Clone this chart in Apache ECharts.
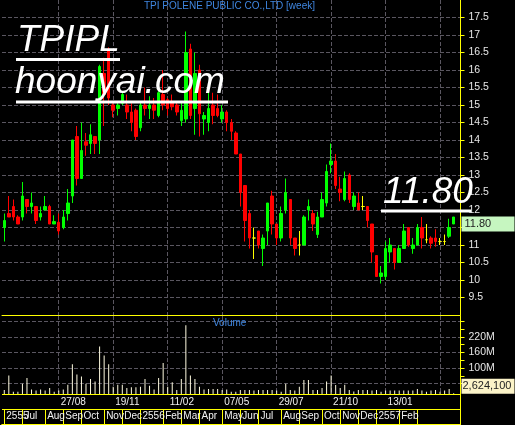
<!DOCTYPE html>
<html><head><meta charset="utf-8">
<script src="https://cdn.jsdelivr.net/npm/echarts@6/dist/echarts.min.js"></script>
<style>html,body{margin:0;padding:0;background:#000;}#c{width:515px;height:425px;}</style>
</head><body><div id="c"></div>
<script>
// ---- categories: weekly bars from the week of 04/06/2012 (plus one empty week at the end)
const weekDates = [];
(function () {
  const t0 = Date.UTC(2012, 5, 4);
  for (let i = 0; i < 101; i++) weekDates.push(new Date(t0 + i * 7 * 86400000).toISOString().slice(0, 10));
})();

// ---- OHLC values (THB)
const openVals = [11.5,11.9,12.1,11.8,11.8,12.3,12.1,12.1,11.8,12.0,
  12.1,11.6,11.65,11.5,11.9,12.4,14.1,12.9,13.95,13.9,
  14.1,14.0,15.9,16.6,15.0,14.9,15.05,15.0,14.8,14.85,
  14.35,15.0,14.9,15.0,14.7,15.3,15.15,15.1,15.0,14.55,
  14.6,16.6,14.9,16.0,14.6,14.5,15.0,14.9,14.6,14.8,
  14.5,14.2,13.6,12.7,11.9,11.2,11.4,10.9,11.4,12.4,
  11.6,11.2,12.0,12.3,11.2,11.0,11.0,12.0,11.9,11.3,
  11.8,12.2,13.3,13.4,12.6,12.3,13.0,12.1,12.2,12.1,
  12.1,11.6,10.7,10.1,10.1,10.8,10.9,10.5,10.9,11.5,
  10.9,11.0,11.5,11.15,11.2,11.2,11.1,11.1,11.25,11.6];
const closeVals = [11.7,11.8,11.8,11.6,12.4,12.1,12.2,11.7,11.9,12.1,
  11.6,11.67,11.4,11.8,12.2,14.0,12.9,13.7,13.85,14.15,
  13.9,16.1,15.3,15.2,14.85,15.0,15.3,14.8,14.5,14.1,
  15.0,14.9,15.0,14.85,15.35,15.0,14.9,14.95,14.8,14.85,
  16.5,14.7,15.9,14.75,14.7,14.9,14.7,14.7,14.8,14.5,
  14.25,13.6,12.5,11.7,11.2,11.2,11.0,11.2,12.2,11.6,
  11.2,11.9,12.5,11.2,10.9,11.0,11.8,12.1,11.6,11.8,
  12.3,13.1,13.4,12.7,12.5,12.9,12.3,12.4,12.0,12.1,
  11.7,10.8,10.1,10.2,10.9,11.0,10.5,10.9,11.4,11.0,
  11.0,11.5,11.2,11.15,11.05,11.1,11.1,11.1,11.5,11.8];
const lowVals = [11.1,11.8,11.7,11.6,11.7,11.9,11.9,11.6,11.7,12.0,
  11.6,11.6,11.3,11.45,11.7,12.2,12.7,12.9,13.55,13.6,
  13.6,13.6,14.4,15.0,14.65,14.7,15.0,14.6,14.25,14.0,
  14.25,14.7,14.6,14.6,14.65,14.85,14.7,14.85,14.7,14.4,
  14.5,14.6,14.15,14.1,14.15,14.25,14.45,14.65,14.5,14.25,
  14.0,13.6,12.1,11.1,10.9,10.6,10.9,10.4,11.0,11.3,
  11.0,11.1,11.9,11.0,10.7,10.7,11.0,11.7,11.4,11.2,
  11.8,12.1,13.05,12.6,12.25,12.25,12.2,12.0,12.0,12.0,
  11.5,10.5,10.1,9.9,10.0,10.5,10.3,10.5,10.9,10.95,
  10.75,11.0,10.9,11.05,10.9,10.95,11.0,11.0,11.2,11.6];
const highVals = [11.9,12.4,12.3,11.85,12.8,12.3,12.5,12.1,12.1,12.4,
  12.15,11.85,11.9,12.0,12.6,14.0,14.4,14.5,14.2,14.45,
  14.1,16.15,16.35,16.65,15.05,15.1,15.4,15.3,15.05,14.9,
  15.1,15.5,15.25,15.2,15.5,16.0,15.2,15.3,15.1,15.1,
  17.1,16.75,16.5,16.15,14.8,15.4,15.35,15.3,15.0,14.85,
  14.6,14.25,13.6,12.7,12.0,11.5,11.4,11.3,12.2,12.55,
  11.6,12.1,12.9,12.3,11.2,11.4,11.85,12.3,12.0,11.95,
  12.5,13.3,13.9,13.6,12.95,13.1,13.05,12.5,12.5,12.4,
  12.1,11.6,10.7,10.4,11.1,11.2,10.9,11.0,11.6,11.5,
  11.2,11.6,11.8,11.6,11.25,11.45,11.2,11.3,11.75,11.8];

// ---- weekly volume (millions of shares)
const volumeM = [15.5,71,9,9,39,62,17,13,17,13,
  23,9,13,17,36,114,75,67,39,58,
  48,183,148,114,28,36,36,23,26,26,
  28,58,32,17,62,119,28,45,15,58,
  264,71,58,28,17,19,19,19,15,17,
  9,9,15,15,15,13,15,15,15,15,
  13,9,39,15,13,28,54,54,15,15,
  23,48,71,35,23,36,15,10,15,15,
  15,13,15,9,13,13,13,13,13,13,
  13,19,13,9,13,15,9,13,19,2.6241];

// ---- tick labels
const priceMin = 9, priceMax = 18, priceStep = 0.5;
const volMax = 300;
const volTickValues = [40,70,100,130,160,190,220,250,280];
const volLabelValues = [100,160,220];
const volGridValues = [40,100,160,220,280];
const dateTickIdx = [12,24,36,48,60,72,84,96];
const dateTickLabels = ['27/08','19/11','11/02','07/05','29/07','21/10','13/01',''];
const monthTickIdx = [0,4,9,13,17,22,26,30,35,39,43,48,52,56,61,65,70,74,78,82,87,91];
const monthTickLabels = ['2555','Jul','Aug','Sep','Oct','Nov','Dec','2556','Feb','Mar','Apr','May','Jun','Jul','Aug','Sep','Oct','Nov','Dec','2557','Feb',''];
const gridLineIdx = [12,24,36,48,60,72,84,96];

const YEL = '#ffff00';
const GRIDC = '#5a5660';
const FONT = 'Liberation Sans';

const candleData = openVals.map((o, i) => [o, closeVals[i], lowVals[i], highVals[i]]);
const lastClose = closeVals[closeVals.length - 1];
const lastVol = volumeM[volumeM.length - 1];
function fmtInt(n) { return String(Math.round(n)).replace(/\B(?=(\d{3})+(?!\d))/g, ','); }
function monthLabel(i) { const k = monthTickIdx.indexOf(i); return k >= 0 ? monthTickLabels[k] : ''; }

const vSplit = {
  show: true,
  interval: (i) => gridLineIdx.indexOf(i) >= 0,
  alignWithLabel: true,
  lineStyle: { color: GRIDC, type: [4, 2], width: 1 }
};
const gridBase = { left: 2, right: 54.5, outerBoundsMode: 'none', containLabel: false };
const hiddenLine = { color: 'rgba(0,0,0,0)', width: 0 };
const rowLabel = { show: true, inside: true, margin: 3, align: 'left', padding: [0, 0, 0, 2],
  showMinLabel: true, showMaxLabel: true, color: '#f2f2f2', fontSize: 10, fontFamily: FONT };

const chart = echarts.init(document.getElementById('c'));
chart.setOption({
  animation: false,
  backgroundColor: '#000000',
  textStyle: { fontFamily: FONT },
  title: [
    { text: 'TPI POLENE PUBLIC CO.,LTD [week]', left: 144, top: 1, padding: 0,
      textStyle: { color: '#3f86e0', fontSize: 10, fontWeight: 'normal', fontFamily: FONT } },
    { text: 'Volume', left: 213, top: 318, padding: 0,
      textStyle: { color: '#3f86e0', fontSize: 10, fontWeight: 'normal', fontFamily: FONT } }
  ],
  grid: [
    Object.assign({ top: 0, height: 315 }, gridBase),
    Object.assign({ top: 316, height: 78 }, gridBase),
    Object.assign({ top: 394, height: 30 }, gridBase)
  ],
  xAxis: [
    { type: 'category', gridIndex: 0, data: weekDates, boundaryGap: true,
      axisLine: { show: true, lineStyle: { color: YEL, width: 1 } },
      axisTick: { show: false }, axisLabel: { show: false }, splitLine: vSplit },
    { type: 'category', gridIndex: 1, data: weekDates, boundaryGap: true,
      axisLine: { show: false }, axisTick: { show: false }, axisLabel: { show: false }, splitLine: vSplit },
    { type: 'category', gridIndex: 2, position: 'top', data: weekDates, boundaryGap: true,
      axisLine: { show: true, lineStyle: { color: YEL, width: 1 } },
      axisTick: { show: true, inside: true, length: 15, alignWithLabel: true,
        interval: (i) => dateTickIdx.indexOf(i) >= 0, lineStyle: { color: YEL, width: 1 } },
      axisLabel: Object.assign({}, rowLabel, {
        interval: (i) => dateTickIdx.indexOf(i) >= 0,
        formatter: (v, i) => { const k = dateTickIdx.indexOf(i); return k >= 0 ? dateTickLabels[k] : ''; } }),
      splitLine: { show: false } },
    { type: 'category', gridIndex: 2, position: 'bottom', offset: 0, data: weekDates, boundaryGap: true,
      axisLine: { show: true, lineStyle: { color: YEL, width: 1 } },
      axisTick: { show: true, inside: true, length: 15, alignWithLabel: true,
        interval: (i) => monthTickIdx.indexOf(i) >= 0, lineStyle: { color: YEL, width: 1 } },
      axisLabel: Object.assign({}, rowLabel, {
        interval: (i) => i > 0 && monthTickIdx.indexOf(i) >= 0,
        formatter: (v, i) => monthLabel(i) }),
      splitLine: { show: false } },
    { type: 'category', gridIndex: 2, position: 'bottom', offset: 0, data: weekDates, boundaryGap: true,
      axisLine: { show: false }, axisTick: { show: false },
      axisLabel: Object.assign({}, rowLabel, {
        interval: (i) => i === monthTickIdx[0],
        formatter: (v, i) => monthLabel(i) }),
      splitLine: { show: false } }
  ],
  yAxis: [
    { type: 'value', gridIndex: 0, position: 'right', min: priceMin, max: priceMax, interval: priceStep,
      axisLine: { show: true, lineStyle: { color: YEL, width: 1 } },
      axisTick: { show: true, length: 4, lineStyle: { color: YEL } },
      axisLabel: { show: true, margin: 8, showMinLabel: false, showMaxLabel: false,
        color: '#e6e6e6', fontSize: 10.5, fontFamily: FONT },
      splitLine: { show: true, showMaxLine: false, showMinLine: false, lineStyle: { color: GRIDC, type: [4, 2] } } },
    { type: 'value', gridIndex: 1, position: 'right', min: 0, max: volMax,
      axisLine: { show: true, lineStyle: { color: YEL, width: 1 } },
      axisTick: { show: true, length: 4, customValues: volTickValues, lineStyle: { color: YEL } },
      axisLabel: { show: true, margin: 8, customValues: volLabelValues, formatter: (v) => v + 'M',
        color: '#e6e6e6', fontSize: 10.5, fontFamily: FONT },
      splitLine: { show: false } },
    { type: 'value', gridIndex: 1, position: 'right', min: 0, max: volMax,
      axisLine: { show: false },
      axisTick: { show: false, customValues: volGridValues },
      axisLabel: { show: false },
      splitLine: { show: true, lineStyle: { color: GRIDC, type: [4, 2] } } },
    { type: 'value', gridIndex: 2, position: 'right', min: 0, max: 2, interval: 1,
      axisLine: { show: true, lineStyle: { color: YEL, width: 1 } },
      axisTick: { show: false }, axisLabel: { show: false },
      splitLine: { show: true, lineStyle: { color: YEL, width: 1, type: 'solid' } } }
  ],
  series: [
    { type: 'candlestick', name: 'TPIPL', xAxisIndex: 0, yAxisIndex: 0, data: candleData,
      barWidth: 3,
      itemStyle: { color: '#00ff00', color0: '#ff0000', borderColor: '#00ff00', borderColor0: '#ff0000',
        borderColorDoji: '#ffff00', borderWidth: 1 },
      markLine: { silent: true, symbol: 'none', animation: false,
        data: [{ yAxis: lastClose }],
        lineStyle: hiddenLine,
        label: { show: true, position: 'end', distance: 1, offset: [0, 7],
          formatter: () => lastClose.toFixed(2), backgroundColor: '#c6f6c0', color: '#222',
          fontSize: 11, fontFamily: FONT, width: 50, lineHeight: 12, padding: [2, 0, 1, 3] } } },
    { type: 'bar', name: 'Volume', xAxisIndex: 1, yAxisIndex: 1, data: volumeM, barWidth: 1,
      itemStyle: { color: '#fffbe0' },
      markLine: { silent: true, symbol: 'none', animation: false,
        data: [{ yAxis: lastVol }],
        lineStyle: hiddenLine,
        label: { show: true, position: 'end', distance: 1, offset: [0, -7],
          formatter: () => fmtInt(lastVol * 1e6), backgroundColor: '#fbf3c8', color: '#222',
          fontSize: 11, fontFamily: FONT, width: 52, lineHeight: 12, padding: [2, 0, 1, 1] } } }
  ],
  graphic: [
    { type: 'text', left: 17, top: 22, z: 100,
      style: { text: 'TPIPL', font: 'italic 37px "Liberation Sans"', fill: '#ffffff' } },
    { type: 'line', z: 100, shape: { x1: 16, y1: 59.5, x2: 120, y2: 59.5 }, style: { stroke: '#ffffff', lineWidth: 3 } },
    { type: 'text', left: 15, top: 64, z: 100,
      style: { text: 'hoonyai.com', font: 'italic 37px "Liberation Sans"', fill: '#ffffff' } },
    { type: 'line', z: 100, shape: { x1: 16, y1: 102, x2: 228, y2: 102 }, style: { stroke: '#ffffff', lineWidth: 3 } },
    { type: 'text', left: 383, top: 174, z: 100,
      style: { text: '11.80', font: 'italic 37px "Liberation Sans"', fill: '#ffffff' } },
    { type: 'line', z: 100, shape: { x1: 381, y1: 211, x2: 471, y2: 211 }, style: { stroke: '#ffffff', lineWidth: 3 } }
  ]
});
</script></body></html>
